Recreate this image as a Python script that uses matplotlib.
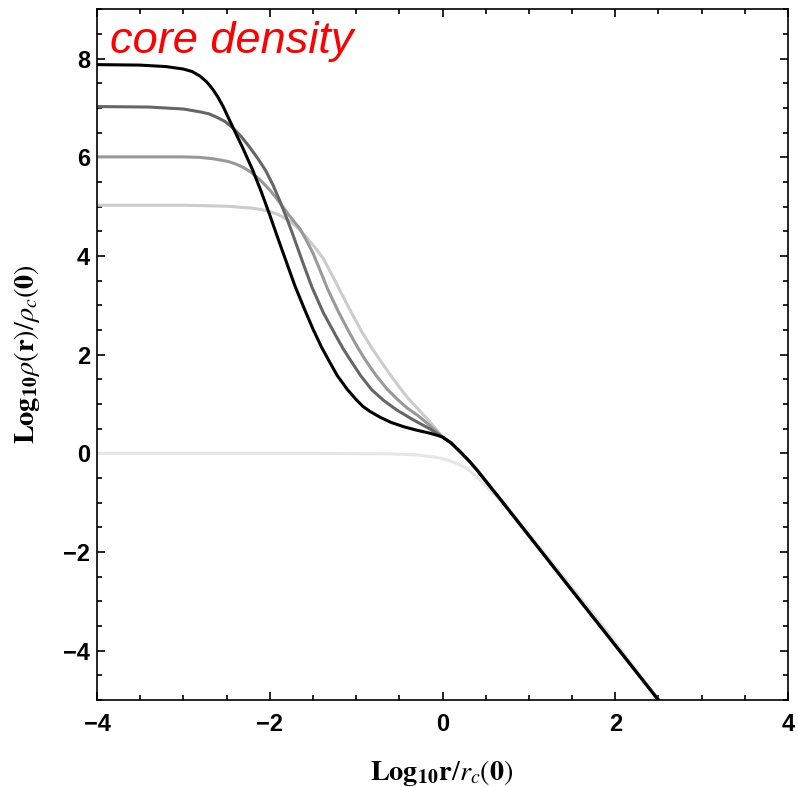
import numpy as np
import matplotlib.pyplot as plt

plt.rcParams['mathtext.fontset'] = 'stix'

# curves: log10 r/rc(0) -> log10 rho(r)/rho_c(0)
# common power-law tail shared by the four collapsed cores
x_tail = [0.1, 0.2, 0.3, 0.4, 0.5, 0.66, 1.5, 2.5]
y_tail = [0.21, 0.04, -0.14, -0.34, -0.56, -0.91, -2.78, -5.0]

x_black = [-4.0, -3.5, -3.2, -3.0, -2.9, -2.81, -2.73, -2.66, -2.60, -2.54, -2.43,
           -2.31, -2.20, -2.10, -2.00, -1.90, -1.80, -1.71, -1.60, -1.50, -1.40,
           -1.30, -1.22, -1.10, -1.00, -0.92, -0.84, -0.72, -0.60, -0.45, -0.30,
           -0.15, -0.05, 0.0]
y_black = [7.88, 7.87, 7.84, 7.79, 7.74, 7.65, 7.53, 7.38, 7.22, 7.03, 6.62,
           6.18, 5.75, 5.31, 4.83, 4.33, 3.84, 3.40, 2.93, 2.52, 2.15,
           1.83, 1.58, 1.29, 1.09, 0.95, 0.85, 0.73, 0.63, 0.54, 0.47,
           0.41, 0.36, 0.33]

x_dark = [-4.0, -3.4, -3.0, -2.80, -2.70, -2.61, -2.52, -2.43, -2.33, -2.23, -2.14,
          -2.05, -1.96, -1.88, -1.80, -1.73, -1.62, -1.51, -1.38, -1.24, -1.15,
          -1.07, -0.95, -0.82, -0.68, -0.53, -0.35, -0.15, 0.0]
y_dark = [7.03, 7.02, 6.98, 6.92, 6.88, 6.81, 6.73, 6.60, 6.42, 6.20, 5.98,
          5.74, 5.43, 5.10, 4.75, 4.42, 3.88, 3.36, 2.85, 2.40, 2.12,
          1.90, 1.58, 1.29, 1.07, 0.88, 0.69, 0.50, 0.33]

x_mid = [-4.0, -3.0, -2.81, -2.65, -2.49, -2.40, -2.31, -2.21, -2.11, -2.00, -1.90,
         -1.80, -1.72, -1.65, -1.58, -1.50, -1.42, -1.33, -1.20, -1.07, -0.98,
         -0.90, -0.77, -0.64, -0.52, -0.41, -0.28, -0.15, 0.0]
y_mid = [6.01, 6.01, 6.00, 5.97, 5.92, 5.87, 5.80, 5.69, 5.54, 5.34, 5.12,
         4.88, 4.70, 4.55, 4.33, 4.06, 3.72, 3.33, 2.85, 2.42, 2.14,
         1.91, 1.58, 1.30, 1.09, 0.92, 0.76, 0.57, 0.33]

x_light = [-4.0, -3.0, -2.5, -2.2, -2.03, -1.90, -1.77, -1.67, -1.57, -1.48, -1.38,
           -1.29, -1.19, -1.06, -0.93, -0.82, -0.72, -0.60, -0.49, -0.40, -0.30,
           -0.15, 0.0]
y_light = [5.03, 5.03, 5.01, 4.97, 4.92, 4.84, 4.71, 4.56, 4.37, 4.18, 3.95,
           3.65, 3.31, 2.87, 2.45, 2.14, 1.88, 1.58, 1.32, 1.12, 0.93,
           0.65, 0.33]

x_faint = [-4.0, -1.5, -0.61, -0.3, -0.11, 0.05, 0.17, 0.28, 0.40, 0.52, 0.66,
           0.80, 1.12, 1.82, 2.50]
y_faint = [0.0, 0.0, -0.01, -0.03, -0.07, -0.13, -0.21, -0.30, -0.48, -0.70, -0.93,
           -1.20, -1.90, -3.40, -5.0]

fig = plt.figure(figsize=(7.98, 7.87), dpi=100)
ax = fig.add_axes([0.1216, 0.1105, 0.8659, 0.8776])

lw = 2.2
ax.plot(x_faint, y_faint, color='#e6e6e6', lw=lw)
ax.plot(x_light + x_tail, y_light + y_tail, color='#cccccc', lw=lw)
ax.plot(x_mid + x_tail, y_mid + y_tail, color='#999999', lw=lw)
ax.plot(x_dark + x_tail, y_dark + y_tail, color='#666666', lw=lw)
ax.plot(x_black + x_tail, y_black + y_tail, color='black', lw=lw)

ax.set_xlim(-4, 4)
ax.set_ylim(-5, 9)
ax.set_xticks([-4, -2, 0, 2, 4])
ax.set_yticks([-4, -2, 0, 2, 4, 6, 8])
ax.set_xticks(np.arange(-4, 4.01, 0.5), minor=True)
ax.set_yticks(np.arange(-5, 9.01, 0.5), minor=True)
ax.set_xticklabels(['\u22124', '\u22122', '0', '2', '4'])
ax.set_yticklabels(['\u22124', '\u22122', '0', '2', '4', '6', '8'])
ax.tick_params(which='both', direction='in', top=True, right=True, width=1.2)
ax.tick_params(which='major', length=6)
ax.tick_params(which='minor', length=3.5)
ax.tick_params(axis='x', pad=9)
ax.tick_params(axis='y', pad=5)
for lab in ax.get_xticklabels() + ax.get_yticklabels():
    lab.set_fontfamily('Liberation Sans')
    lab.set_fontweight('bold')
    lab.set_fontsize(17)
for sp in ax.spines.values():
    sp.set_linewidth(1.2)

ax.text(-3.85, 8.12, 'core density', color='red', fontsize=32.5, style='italic',
        family='Liberation Sans', va='baseline', ha='left')

fig.text(442 / 798, 1 - 773 / 787, r'$\mathbf{Log_{10}r}/r_c(\mathbf{0})$',
         fontsize=20.3, ha='center', va='center')
fig.text(27 / 798, 1 - 354 / 787, r'$\mathbf{Log_{10}}\rho(\mathbf{r})/\rho_c(\mathbf{0})$',
         fontsize=20.3, ha='center', va='center', rotation=90)

fig.savefig('out.png', dpi=100)
